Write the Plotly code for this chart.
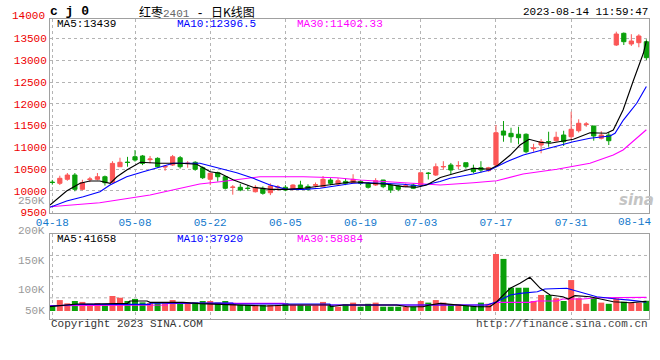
import plotly.graph_objects as go

# ---------------- data ----------------
opens = [10200, 10172, 10264, 10362, 10034, 10255, 10264, 10323, 10195, 10553,
         10660, 10783, 10800, 10715, 10746, 10545, 10592, 10760, 10625, 10655,
         10530, 10264, 10415, 10323, 10075, 10080, 10062, 9978, 10057, 9955,
         10075, 10080, 10034, 10132, 10100, 10125, 10094, 10247, 10155, 10216,
         10185, 10216, 10171, 10132, 10247, 10132, 10110, 10105, 10132, 10132,
         10408, 10362, 10548, 10592, 10570, 10645, 10517, 10530, 10461, 10592,
         11374, 11321, 11299, 11299, 10970, 11052, 11133, 11151, 11282, 11243,
         11381, 11522, 11490, 11207, 11282, 13352, 13621, 13375, 13405, 13428]
highs = [10250, 10346, 10408, 10408, 10254, 10320, 10408, 10350, 10680, 10760,
         10780, 10936, 10823, 10800, 10770, 10590, 10823, 10800, 10680, 10680,
         10560, 10420, 10440, 10340, 10130, 10160, 10130, 10130, 10100, 10170,
         10130, 10130, 10150, 10230, 10150, 10190, 10340, 10290, 10290, 10290,
         10380, 10250, 10200, 10290, 10250, 10170, 10130, 10170, 10170, 10415,
         10430, 10630, 10680, 10640, 10680, 10645, 10600, 10680, 10550, 11512,
         11604, 11450, 11473, 11320, 11080, 11190, 11358, 11358, 11380, 11818,
         11644, 11580, 11490, 11370, 11340, 13658, 13640, 13600, 13600, 13483]
lows = [10140, 10132, 10230, 9988, 10010, 10200, 10240, 10120, 10170, 10553,
        10553, 10670, 10590, 10630, 10530, 10460, 10570, 10510, 10530, 10460,
        10270, 10130, 10210, 10030, 9910, 9990, 10000, 9960, 9910, 9900,
        10000, 9990, 10010, 10040, 10000, 10080, 10080, 10130, 10110, 10130,
        10170, 10130, 10050, 10110, 10060, 9950, 9990, 10080, 10040, 10100,
        10260, 10340, 10480, 10380, 10500, 10510, 10400, 10420, 10440, 10553,
        11128, 11105, 11069, 10862, 10900, 10862, 11013, 11130, 11030, 11184,
        11340, 11470, 11151, 11180, 11052, 13330, 13352, 13330, 13300, 13007]
closes = [10190, 10287, 10362, 10034, 10185, 10270, 10323, 10185, 10630, 10655,
          10650, 10707, 10630, 10730, 10553, 10560, 10783, 10553, 10635, 10494,
          10300, 10402, 10323, 10057, 10085, 10017, 10052, 10080, 9942, 10110,
          10085, 10017, 10132, 10057, 10034, 10140, 10264, 10171, 10231, 10171,
          10264, 10171, 10080, 10231, 10094, 10017, 10034, 10115, 10057, 10415,
          10398, 10553, 10558, 10477, 10580, 10553, 10440, 10477, 10530, 11335,
          11280, 11243, 11220, 10898, 10985, 11128, 11123, 11230, 11128, 11414,
          11552, 11536, 11260, 11282, 11151, 13605, 13428, 13444, 13559, 13060]
volumes = [24500, 47000, 33000, 43000, 39000, 31000, 34000, 26000, 64500, 57000,
           43000, 52000, 37000, 34000, 34000, 34000, 47000, 31000, 31000, 37000,
           43000, 43000, 36000, 43000, 35000, 26000, 26000, 26000, 26000, 26000,
           26000, 33000, 26000, 26000, 24000, 24000, 39000, 26000, 18500, 29000,
           36000, 18500, 31000, 36000, 18500, 18500, 18500, 18500, 18500, 43000,
           36000, 47000, 36000, 29000, 29000, 22000, 22000, 36000, 31000, 245000,
           224000, 100000, 100000, 100000, 43000, 69000, 69000, 55000, 43000, 133000,
           55000, 31000, 57000, 36000, 31000, 55000, 40000, 35000, 35000, 44000]

# moving-average lines (candle index, value)
ma5_x = [-0.31, 1.9, 3.7, 5.0, 6.3, 7.7, 8.6, 9.9, 11.7, 14.3, 17.0, 19.2, 21.0, 22.3,
         24.1, 26.7, 29.0, 31.2, 33.4, 35.6, 37.8, 40.0, 42.3, 44.5, 46.7, 48.5, 49.8,
         51.6, 53.8, 56.0, 58.2, 59.3, 60.9, 62.2, 63.4, 64.9, 66.2, 69.3, 71.5, 73.7,
         74.6, 75.9, 77.3, 78.6, 79.0]
ma5_v = [9672, 9994, 10172, 10224, 10224, 10172, 10323, 10477, 10655, 10632, 10632,
         10609, 10438, 10402, 10247, 10080, 10034, 10034, 10057, 10110, 10172, 10208,
         10172, 10149, 10094, 10080, 10132, 10305, 10415, 10517, 10494, 10592, 10822,
         11052, 11184, 11115, 11092, 11184, 11335, 11322, 11397, 11857, 12547, 13162,
         13439]
ma10_x = [-0.31, 1.91, 4.12, 6.34, 7.67, 9.89, 12.1, 13.88, 16.09, 19.64, 20.97, 22.3,
          24.52, 26.73, 28.95, 31.17, 33.38, 35.6, 37.82, 40.03, 42.25, 44.47, 46.68,
          48.9, 51.56, 52.89, 55.99, 58.2, 60.43, 62.64, 66.18, 69.28, 71.5, 74.16,
          74.83, 75.94, 77.72, 79.0]
ma10_v = [9620, 9764, 9863, 9978, 10132, 10323, 10438, 10530, 10632, 10632, 10570,
          10510, 10415, 10287, 10132, 10034, 10034, 10057, 10110, 10172, 10185, 10172,
          10149, 10110, 10213, 10287, 10385, 10477, 10668, 10822, 10977, 11128, 11207,
          11259, 11322, 11627, 12012, 12396.5]
ma30_x = [-0.31, 6.3, 13.0, 19.6, 22.3, 27.6, 33.4, 37.8, 40.9, 45.4, 48.9, 51.6,
          56.0, 59.1, 62.6, 67.1, 71.5, 74.6, 75.9, 79.0]
ma30_v = [9633, 9725, 9902, 10155, 10208, 10323, 10323, 10300, 10247, 10194, 10149,
          10132, 10185, 10231, 10385, 10494, 10632, 10822, 10937, 11402.33]

vma5_x = [-0.31, 3.3, 5.4, 7.7, 10.0, 10.3, 12.6, 13.0, 17.4, 19.6, 25.4, 28.5, 31.6,
          36.9, 37.0, 38.7, 45.8, 47.2, 49.3, 50.2, 51.6, 56.5, 58.2, 59.1, 60.9, 62.2,
          63.5, 64.9, 66.2, 67.9, 68.6, 69.5, 71.5, 74.6, 76.8, 79.0]
vma5_v = [18500, 30000, 30000, 33000, 33000, 43000, 43000, 37000, 37000, 32000, 26000,
          21500, 26000, 26000, 18500, 26000, 26000, 18500, 18500, 26000, 33000, 18500,
          18500, 40000, 97600, 119000, 145000, 97600, 69000, 61500, 51600, 65800, 61500,
          40000, 35700, 41658]
vma10_x = [-0.31, 4.1, 13.0, 13.01, 24.0, 24.1, 36.9, 37.0, 57.8, 59.1, 60.9, 62.2,
           64.5, 65.5, 68.4, 70.6, 72.4, 75.0, 76.8, 79.0]
vma10_v = [21500, 28800, 28800, 34000, 34000, 30000, 30000, 26000, 26000, 40000, 69000,
           76000, 83000, 94600, 97600, 76000, 61500, 51600, 47000, 37920]
vma30_x = [-0.31, 8.6, 15.3, 15.31, 30.7, 31.6, 57.8, 59.1, 63.5, 64.5, 67.1, 67.9,
           70.6, 72.4, 79.0]
vma30_v = [22800, 25800, 25800, 33000, 33000, 25800, 25800, 37400, 37400, 43000, 43000,
           51600, 51600, 57200, 58884]

date_labels = ["04-18", "05-08", "05-22", "06-05", "06-19", "07-03", "07-17", "07-31"]
date_index = [0, 11, 21, 31, 41, 49, 59, 69]
last_label = "08-14"
price_ticks = [9500, 10000, 10500, 11000, 11500, 12000, 12500, 13000, 13500]
top_price_label = "14000"
vol_labels = ["250K", "200K", "150K", "100K", "50K"]

# ---------------- styling ----------------
RED = "#fb5656"
GREEN = "#0aa00a"
MONO = "Liberation Mono"
GRID = "#b4b4b4"
FRAME = "#a0a0a0"
LW = 1.15

W, H = 660, 360
ML, MR, MT, MB = 50, 11, 19, 41
PW, PH = W - ML - MR, H - MT - MB


def px(x):
    return (x - ML) / PW


def py(y):
    return (H - MB - y) / PH


n = len(closes)
xs = list(range(n))
vol_colors = [RED if c >= o else GREEN for o, c in zip(opens, closes)]

fig = go.Figure()
fig.add_trace(go.Candlestick(
    x=xs, open=opens, high=highs, low=lows, close=closes,
    increasing=dict(line=dict(color=RED, width=1), fillcolor=RED),
    decreasing=dict(line=dict(color=GREEN, width=1), fillcolor=GREEN),
    whiskerwidth=0, xaxis="x", yaxis="y", hoverinfo="skip"))
fig.add_trace(go.Scatter(x=ma30_x, y=ma30_v, mode="lines",
                         line=dict(color="#ff00ff", width=LW), xaxis="x", yaxis="y"))
fig.add_trace(go.Scatter(x=ma10_x, y=ma10_v, mode="lines",
                         line=dict(color="#0000ff", width=LW), xaxis="x", yaxis="y"))
fig.add_trace(go.Scatter(x=ma5_x, y=ma5_v, mode="lines",
                         line=dict(color="#000000", width=LW), xaxis="x", yaxis="y"))

fig.add_trace(go.Bar(x=xs, y=volumes, marker=dict(color=vol_colors, line=dict(width=0)),
                     width=0.8, xaxis="x2", yaxis="y2", hoverinfo="skip"))
fig.add_trace(go.Scatter(x=vma30_x, y=vma30_v, mode="lines",
                         line=dict(color="#ff00ff", width=LW), xaxis="x2", yaxis="y2"))
fig.add_trace(go.Scatter(x=vma10_x, y=vma10_v, mode="lines",
                         line=dict(color="#0000ff", width=LW), xaxis="x2", yaxis="y2"))
fig.add_trace(go.Scatter(x=vma5_x, y=vma5_v, mode="lines",
                         line=dict(color="#000000", width=LW), xaxis="x2", yaxis="y2"))

xrange = [-0.306, 79.35]
axis_common = dict(showline=True, mirror=True, linecolor=FRAME, linewidth=1,
                   zeroline=False, fixedrange=True)

fig.update_layout(
    width=W, height=H, margin=dict(l=ML, r=MR, t=MT, b=MB),
    paper_bgcolor="white", plot_bgcolor="white", showlegend=False,
    hovermode=False, boxgap=0.2,
    xaxis=dict(domain=[0, 1], range=xrange, anchor="y", tickvals=date_index,
               ticktext=date_labels, tickfont=dict(family=MONO, size=11, color="#1479cc"),
               showgrid=True, gridcolor=GRID, griddash="dot", gridwidth=1,
               ticklabelstandoff=-2,
               rangeslider=dict(visible=False), ticks="", **axis_common),
    yaxis=dict(domain=[py(213.3), 1], range=[9482, 13950], anchor="x",
               tickvals=price_ticks, ticktext=[str(t) for t in price_ticks],
               tickfont=dict(family=MONO, size=11, color="#ee0000"),
               showgrid=True, gridcolor=GRID, griddash="dot", ticks="", **axis_common),
    xaxis2=dict(domain=[0, 1], range=xrange, anchor="y2", tickvals=date_index,
                showticklabels=False, showgrid=True, gridcolor=GRID, griddash="dot",
                ticks="", **axis_common),
    yaxis2=dict(domain=[0, py(234.3)], range=[-34400, 329800], anchor="x2",
                showticklabels=False, showgrid=False, ticks="", **axis_common),
)

# volume grid lines
for f in (0.25, 0.5, 0.75):
    fig.add_shape(type="line", xref="x2 domain", yref="y2 domain", x0=0, x1=1, y0=f, y1=f,
                  line=dict(color=GRID, width=1, dash="dot"), layer="below")

ann = []


def text(x, y, s, color="#000", size=11, xanchor="left", family=MONO, **kw):
    ann.append(dict(x=px(x), y=py(y), xref="paper", yref="paper", text=s, showarrow=False,
                    xanchor=xanchor, yanchor="middle",
                    font=dict(family=family, size=size, color=color), **kw))


text(48, 11.5, "<b>c j 0</b>", size=13)
text(137, 11.5,
     "红枣<span style='color:#666;font-family:Liberation Mono;font-size:11px'>2401</span>"
     "<span style='font-family:Liberation Mono'> - </span>日K线图",
     size=12, family="Noto Sans CJK SC")
text(650, 11.5, "2023-08-14 11:59:47", xanchor="right")
text(55, 24, f"MA5:{ma5_v[-1]:.0f}")
text(175, 24, f"MA10:{ma10_v[-1]:.1f}", color="#0000ff")
text(295, 24, f"MA30:{ma30_v[-1]:.2f}", color="#ff00ff")
text(47, 16, top_price_label, color="#ee0000", xanchor="right")
text(634, 221.7, last_label, color="#1479cc", xanchor="center")
text(55, 239, f"MA5:{vma5_v[-1]:.0f}")
text(175, 239, f"MA10:{vma10_v[-1]:.0f}", color="#0000ff")
text(295, 239, f"MA30:{vma30_v[-1]:.0f}", color="#ff00ff")
for lab, yy in zip(vol_labels, [201, 231, 261, 290, 311]):
    text(47, yy, lab, color="#999999", xanchor="right")
text(49, 324, "Copyright 2023 SINA.COM", color="#333333")
text(650, 324, "http://finance.sina.com.cn", color="#444444", xanchor="right")
text(636, 200, "<b><i>sina</i></b>", color="#c4c4c4", size=15, xanchor="center",
     family="DejaVu Sans")
fig.update_layout(annotations=ann)

fig.write_html("out.html", config={"displayModeBar": False},
               post_script="document.body.style.margin='0px';document.body.style.padding='0px';")
